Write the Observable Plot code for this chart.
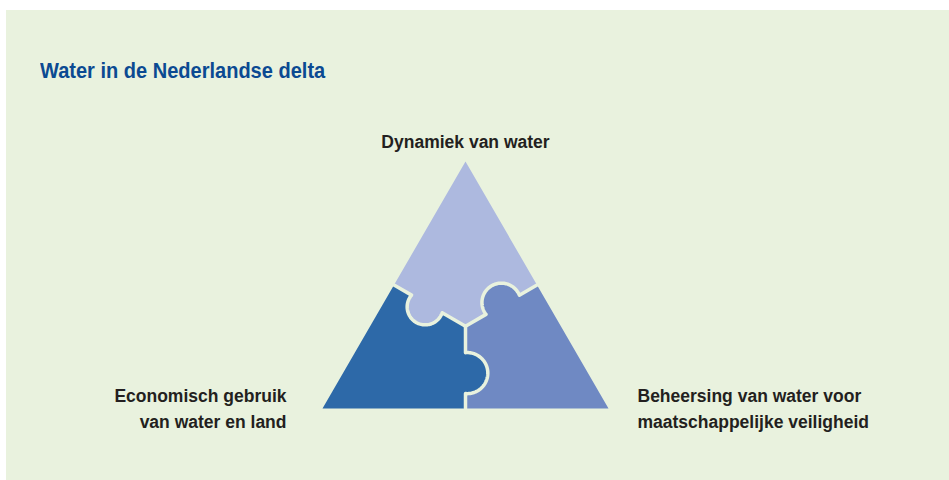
<!DOCTYPE html>
<html>
<head>
<meta charset="utf-8">
<script src="https://cdn.jsdelivr.net/npm/d3@7"></script>
<script src="https://cdn.jsdelivr.net/npm/@observablehq/plot@0.6"></script>
<style>
  html, body { margin: 0; padding: 0; background: #ffffff; width: 949px; height: 480px; overflow: hidden; }
  #bg { position: absolute; left: 6px; top: 10px; width: 943px; height: 470px; background: #e9f2de; }
  #title { position: absolute; left: 40px; top: 59px; font-family: "Liberation Sans", Arial, sans-serif; font-weight: bold; font-size: 22px; line-height: 24px; color: #0b4a92; white-space: nowrap; transform: scaleX(0.91); transform-origin: 0 0; }
  #chart { position: absolute; left: 0; top: 0; }
</style>
</head>
<body>
<div id="bg"></div>
<div id="title">Water in de Nederlandse delta</div>
<div id="chart"></div>
<script>
// ---- data (triangle units: side = 1) ----
const H = Math.sqrt(3) / 2;
const vertexNames = ["A", "B", "C"];
const vertexX = [0, -0.5, 0.5];
const vertexY = [H, 0, 0];

// puzzle divisions: centroid G to the edge midpoints, each with one knob
const divisionNames = ["left", "right", "bottom"];
const divisionFrom = ["Mab", "Mac", "G"];
const divisionTo = ["G", "G", "Mbc"];
const knobInto = ["B", "A", "C"];        // vertex of the piece the knob pushes into
const knobPosition = [0.46, 0.48, 0.57]; // fraction along the division
const knobRadius = [0.063, 0.068, 0.072];
const knobOffset = [0.012, 0.009, 0.006];

const pieceNames = ["top", "left", "right"];
const pieceColors = ["#adb9df", "#2d69a8", "#6f89c3"];

const labelTexts = ["Dynamiek van water", "Economisch gebruik\nvan water en land", "Beheersing van water voor\nmaatschappelijke veiligheid"];
const labelVertex = ["A", "B", "C"];

const background = "#e9f2de";

// ---- geometry built from the data ----
const P = {};
vertexNames.forEach((n, i) => P[n] = [vertexX[i], vertexY[i]]);
const mid = (a, b) => [(a[0] + b[0]) / 2, (a[1] + b[1]) / 2];
P.Mab = mid(P.A, P.B);
P.Mac = mid(P.A, P.C);
P.Mbc = mid(P.B, P.C);
P.G = [(P.A[0] + P.B[0] + P.C[0]) / 3, (P.A[1] + P.B[1] + P.C[1]) / 3];

function division(i) {
  const a = P[divisionFrom[i]], b = P[divisionTo[i]];
  const L = Math.hypot(b[0] - a[0], b[1] - a[1]);
  const u = [(b[0] - a[0]) / L, (b[1] - a[1]) / L];
  const M = [a[0] + u[0] * knobPosition[i] * L, a[1] + u[1] * knobPosition[i] * L];
  const tgt = P[knobInto[i]];
  let n = [-u[1], u[0]];
  if (n[0] * (tgt[0] - M[0]) + n[1] * (tgt[1] - M[1]) < 0) n = [-n[0], -n[1]];
  const r = knobRadius[i], off = knobOffset[i];
  const w = Math.sqrt(r * r - off * off);
  const C = [M[0] + n[0] * off, M[1] + n[1] * off];
  const pts = [a];
  const p0 = Math.atan2(-w, -off), p1 = -p0, steps = 72;
  for (let k = 0; k <= steps; k++) {
    const p = p0 + (p1 - p0) * k / steps;
    pts.push([C[0] + r * (Math.sin(p) * u[0] + Math.cos(p) * n[0]),
              C[1] + r * (Math.sin(p) * u[1] + Math.cos(p) * n[1])]);
  }
  pts.push(b);
  return pts;
}
const D = divisionNames.map((_, i) => division(i));
const rev = a => a.slice().reverse();

const outlines = {
  top: [P.A, ...D[1], ...rev(D[0]), P.A],
  left: [P.B, ...D[0], ...D[2], P.B],
  right: [P.C, ...rev(D[2]), ...rev(D[1]), P.C]
};
const pieceRows = pieceNames.flatMap(name => outlines[name].map(([x, y]) => ({piece: name, x, y})));
const divisionRows = divisionNames.flatMap((name, i) => D[i].map(([x, y]) => ({division: name, x, y})));
const labelRows = labelTexts.map((text, i) => ({text, x: P[labelVertex[i]][0], y: P[labelVertex[i]][1], vertex: labelVertex[i]}));

const labelFont = {fontFamily: "'Liberation Sans', Arial, sans-serif", fontWeight: "bold", fontSize: 17.5, fill: "#231f20", lineHeight: 1.5};

const chart = Plot.plot({
  width: 949,
  height: 480,
  marginLeft: 322,
  marginRight: 341,
  marginTop: 161,
  marginBottom: 72,
  x: {domain: [-0.5, 0.5], axis: null},
  y: {domain: [0, H], axis: null},
  style: {background: "transparent", overflow: "visible"},
  marks: [
    ...pieceNames.map((name, i) => Plot.line(pieceRows.filter(d => d.piece === name), {
      x: "x", y: "y", fill: pieceColors[i], stroke: "none", curve: "linear"
    })),
    Plot.line(divisionRows, {x: "x", y: "y", z: "division", stroke: background, strokeWidth: 3.5, curve: "linear"}),
    Plot.text(labelRows.filter(d => d.vertex === "A"), {x: "x", y: "y", text: "text", textAnchor: "middle", lineAnchor: "middle", dy: -22, ...labelFont}),
    Plot.text(labelRows.filter(d => d.vertex === "B"), {x: "x", y: "y", text: "text", textAnchor: "end", lineAnchor: "middle", dx: -36, dy: -2, ...labelFont}),
    Plot.text(labelRows.filter(d => d.vertex === "C"), {x: "x", y: "y", text: "text", textAnchor: "start", lineAnchor: "middle", dx: 29, dy: -2, ...labelFont})
  ]
});
document.getElementById("chart").appendChild(chart);
</script>
</body>
</html>
